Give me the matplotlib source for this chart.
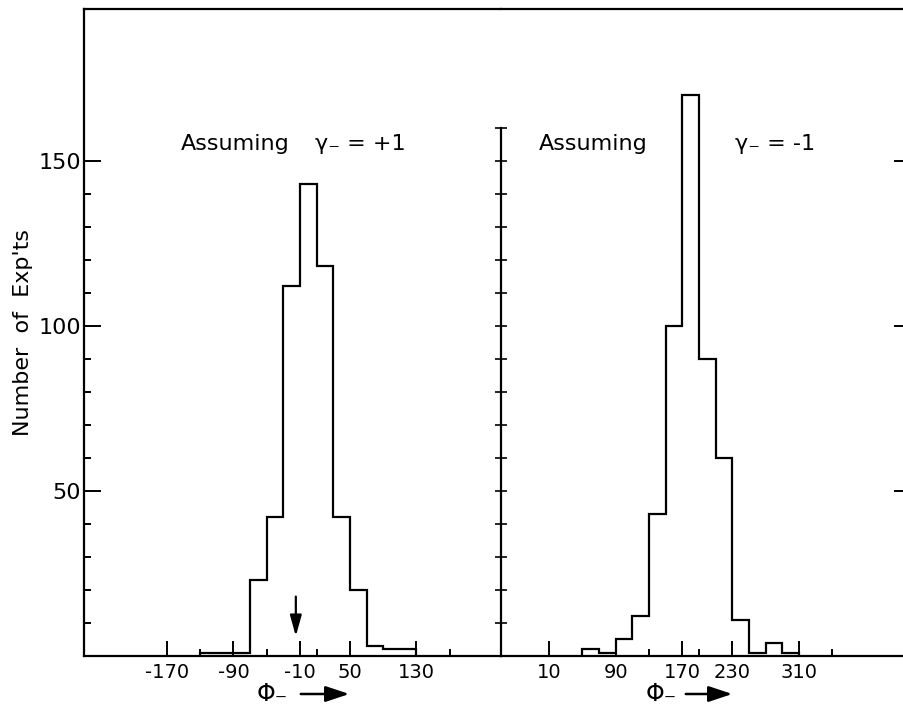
import numpy as np
import matplotlib
matplotlib.use('Agg')
import matplotlib.pyplot as plt

# histogram for gamma_- = +1
edges_plus = [-130, -110, -90, -70, -50, -30, -10, 10, 30, 50, 70, 90, 110, 130]
counts_plus = [1, 1, 1, 23, 42, 112, 143, 118, 42, 20, 3, 2, 2]

# histogram for gamma_- = -1
edges_minus = [50, 70, 90, 110, 130, 150, 170, 190, 210, 230, 250, 270, 290, 310]
counts_minus = [2, 1, 5, 12, 43, 100, 170, 90, 60, 11, 1, 4, 1]

xticks_plus = [-170, -90, -10, 50, 130]
xminor_plus = [-130, -50, 10, 170]
xticks_minus = [10, 90, 170, 230, 310]
xminor_minus = [130, 190, 350]
yticks = [50, 100, 150]
arrow_at = -15

plt.rcParams['font.family'] = 'DejaVu Sans'
plt.rcParams['font.size'] = 14
plt.rcParams['axes.unicode_minus'] = False

W, H = 904, 706
fig = plt.figure(figsize=(W / 100, H / 100), dpi=100)
ax1 = fig.add_axes([84 / W, 50 / H, 417 / W, 647 / H])
ax2 = fig.add_axes([501 / W, 50 / H, 404 / W, 647 / H])

for ax in (ax1, ax2):
    ax.set_ylim(0, 196)
    for s in ax.spines.values():
        s.set_linewidth(1.6)
    ax.spines['right'].set_visible(False)
    ax.tick_params(axis='x', which='major', direction='in', length=11, width=1.4, pad=5)
    ax.tick_params(axis='x', which='minor', direction='in', length=5, width=1.4)

ax1.set_xlim(-269.6, 231.6)
ax2.set_xlim(-47.6, 437.4)

ax1.stairs(counts_plus, edges_plus, color='black', lw=1.6)
ax2.stairs(counts_minus, edges_minus, color='black', lw=1.6)

ax1.set_xticks(xticks_plus)
ax1.set_xticks(xminor_plus, minor=True)
ax2.set_xticks(xticks_minus)
ax2.set_xticks(xminor_minus, minor=True)

# left axis
ax1.set_yticks(yticks)
ax1.set_yticks([v for v in range(10, 150, 10) if v not in yticks], minor=True)
ax1.tick_params(axis='y', which='major', direction='in', length=12, width=1.4,
                pad=2, labelsize=16)
ax1.tick_params(axis='y', which='minor', direction='in', length=5, width=1.4)
ax1.set_ylabel("Number  of  Exp'ts", fontsize=16, labelpad=4)

# middle divider and right edge ticks
ax2.spines['left'].set_bounds(0, 160)
ax2.set_yticks(yticks)
ax2.set_yticks(list(range(10, 170, 10)), minor=True)
ax2.yaxis.remove_overlapping_locs = False
ax2.tick_params(axis='y', which='major', left=False, right=True, direction='in',
                length=8, width=1.4, labelleft=False, labelright=False)
ax2.tick_params(axis='y', which='minor', left=True, right=False, direction='inout',
                length=9, width=1.2)

ax1.text(-153, 155, 'Assuming', fontsize=16, va='center', ha='left')
ax1.text(8, 155, 'γ₋ = +1', fontsize=16, va='center', ha='left')
ax2.text(-2, 155, 'Assuming', fontsize=16, va='center', ha='left')
ax2.text(233, 155, 'γ₋ = -1', fontsize=16, va='center', ha='left')

ax1.annotate('', xy=(arrow_at, 6), xytext=(arrow_at, 18),
             arrowprops=dict(arrowstyle='-|>,head_length=0.9,head_width=0.25',
                             color='black', lw=1.6, shrinkA=0, shrinkB=0))

# phi labels with arrows
for xphi, xa0, xa1 in [(272, 298, 352), (661, 683, 735)]:
    fig.text(xphi / W, 12 / H, 'Φ₋', fontsize=17, ha='center', va='center')
    fig.add_artist(matplotlib.patches.FancyArrowPatch(
        (xa0 / W, 12 / H), (xa1 / W, 12 / H), transform=fig.transFigure,
        arrowstyle='-|>,head_length=1.2,head_width=0.4', color='black',
        lw=1.8, mutation_scale=12))

fig.savefig('out.png', dpi=100)
